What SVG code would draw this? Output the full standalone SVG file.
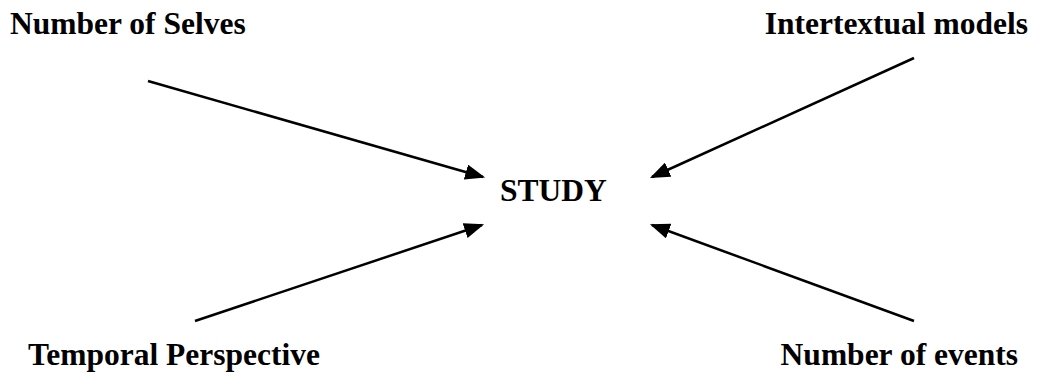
<svg xmlns="http://www.w3.org/2000/svg" width="1037" height="377" viewBox="0 0 1037 377">
  <style>
    .lbl { font-family: "Liberation Serif", "Times New Roman", serif; font-weight: bold; font-size: 31.5px; fill: #000; }
    .conn { stroke: #000; stroke-width: 2.5; fill: none; marker-end: url(#ah); }
  </style>
  <defs>
    <marker id="ah" markerUnits="userSpaceOnUse" markerWidth="20" markerHeight="16" viewBox="0 0 18 14" refX="16" refY="7" orient="auto">
      <path d="M0,0 L18,7 L0,14 z" fill="#000"/>
    </marker>
  </defs>
  <rect width="1037" height="377" fill="#fff"/>
  <g id="connectors">
    <line class="conn" x1="148" y1="81" x2="483" y2="177"/>
    <line class="conn" x1="914" y1="58" x2="652" y2="177"/>
    <line class="conn" x1="195" y1="321" x2="482" y2="225"/>
    <line class="conn" x1="914" y1="321" x2="652" y2="225"/>
  </g>
  <g id="node-selves"><text class="lbl" x="10" y="34">Number of Selves</text></g>
  <g id="node-intertextual"><text class="lbl" x="1028" y="34" text-anchor="end">Intertextual models</text></g>
  <g id="node-study"><text class="lbl" x="500" y="201">STUDY</text></g>
  <g id="node-temporal"><text class="lbl" x="320" y="365" text-anchor="end">Temporal Perspective</text></g>
  <g id="node-events"><text class="lbl" x="1018" y="365" text-anchor="end">Number of events</text></g>
</svg>
